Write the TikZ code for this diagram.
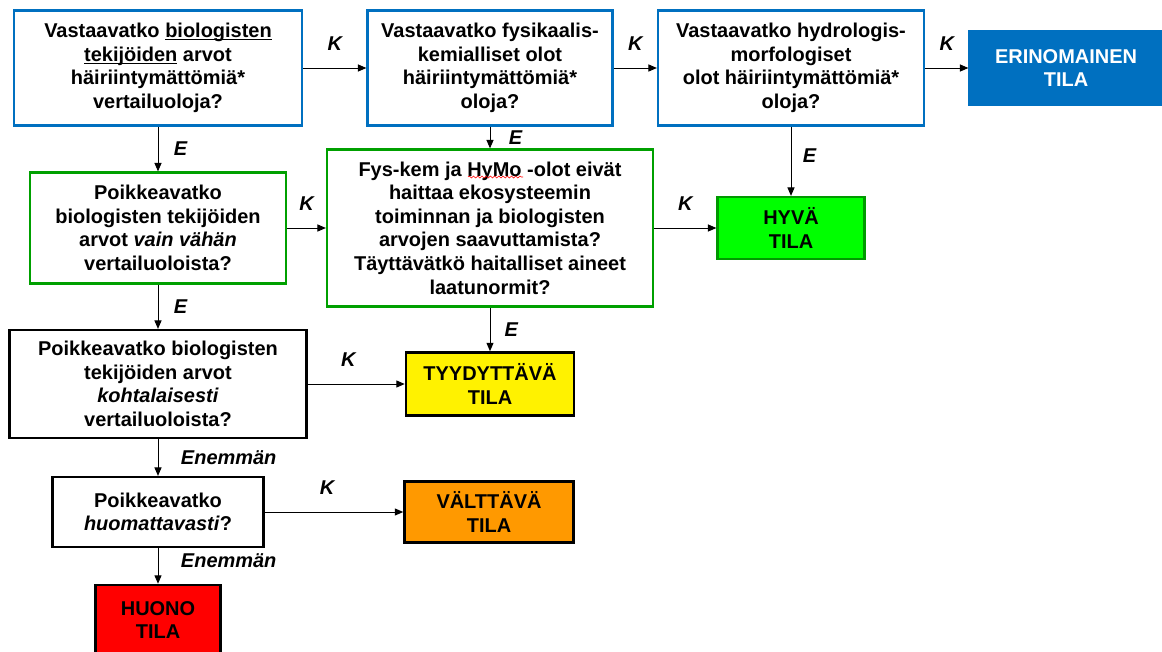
\documentclass[tikz,border=0pt]{standalone}
\usepackage{fontspec}
\setmainfont{Liberation Sans}
\usepackage{xcolor}
\usetikzlibrary{arrows.meta, decorations.pathmorphing}
\definecolor{lakeblue}{HTML}{0070C0}
\definecolor{boxgreen}{HTML}{00A000}
\definecolor{goodgreen}{HTML}{00FF00}
\definecolor{fairorange}{HTML}{FF9900}
\newcommand\lowline[1]{\setbox0\hbox{#1}\rlap{\rule[-1.8pt]{\wd0}{0.8pt}}\box0\relax}
\tikzset{qbox/.style={draw, line width=1.6pt, fill=white, align=center, inner sep=2pt, font={\fontsize{14.2}{16.8}\selectfont\bfseries}},
  boxsize/.style 2 args={minimum width=#1*0.025cm, minimum height=#2*0.025cm},
  bluebox/.style={qbox, draw=lakeblue}, greenbox/.style={qbox, draw=boxgreen}, blackbox/.style={qbox, draw=black},
  statebox/.style={qbox, draw=black, line width=1.8pt},
  arr/.style={-{Triangle[length=6pt,width=5pt]}, line width=0.7pt},
  lbl/.style={inner sep=0pt, font={\fontsize{14.2}{16.8}\selectfont\bfseries\itshape}}}

\begin{document}
\begin{tikzpicture}[x=0.025cm, y=-0.025cm]
    \useasboundingbox (0,0) rectangle (1162,651);
    % top row
    \node [bluebox, boxsize={288}{115}] (q1) at (158,68) {Vastaavatko \lowline{biologisten}\\\lowline{tekijöiden} arvot\\häiriintymättömiä*\\vertailuoloja?};
    \node [bluebox, boxsize={245}{115}] (q2) at (490,68) {Vastaavatko fysikaalis-\\kemialliset olot\\häiriintymättömiä*\\oloja?};
    \node [bluebox, boxsize={266}{115}] (q3) at (791,68) {Vastaavatko hydrologis-\\morfologiset\\olot häiriintymättömiä*\\oloja?};
    \node [qbox, draw=lakeblue, fill=lakeblue, text=white, boxsize={193}{74}] (eri) at (1066,68) {ERINOMAINEN\\TILA};
    % second row
    \node [greenbox, boxsize={256}{111}] (vain) at (158,228) {Poikkeavatko\\biologisten tekijöiden\\arvot \textit{vain vähän}\\vertailuoloista?};
    \node [greenbox, boxsize={326}{157}] (fyskem) at (490,228) {Fys-kem ja HyMo -olot eivät\\haittaa ekosysteemin\\toiminnan ja biologisten\\arvojen saavuttamista?\\Täyttävätkö haitalliset aineet\\laatunormit?};
    \node [qbox, draw=green!60!black, fill=goodgreen, boxsize={147}{62}] (hyva) at (791,228) {HYVÄ\\TILA};
    % lower rows
    \node [blackbox, boxsize={297}{108}] (kohtal) at (158,384) {Poikkeavatko biologisten\\tekijöiden arvot\\\textit{kohtalaisesti}\\vertailuoloista?};
    \node [statebox, fill=yellow, boxsize={168}{63}] (tyyd) at (490,384) {TYYDYTTÄVÄ\\TILA};
    \node [blackbox, boxsize={211}{70}] (huom) at (158,512) {Poikkeavatko\\\textit{huomattavasti}?};
    \node [statebox, fill=fairorange, boxsize={169}{61}] (valt) at (489,512) {VÄLTTÄVÄ\\TILA};
    \node [statebox, fill=red, boxsize={125}{70}] (huono) at (158,620) {HUONO\\TILA};
    % spell-check squiggle under HyMo
    \draw [red, line width=0.4pt, decorate, decoration={snake, amplitude=0.7pt, segment length=3pt}] (468,177) -- (523,177);
    % K = kyllä, E = ei
    \draw [arr] (q1) -- node [lbl, above=12pt] {K} (q2);
    \draw [arr] (q2) -- node [lbl, above=12pt] {K} (q3);
    \draw [arr] (q3) -- node [lbl, above=12pt] {K} (eri);
    \draw [arr] (q1) -- node [lbl, right=11pt] {E} (vain);
    \draw [arr] (q2) -- node [lbl, right=13pt] {E} (fyskem);
    \draw [arr] (q3) -- node [lbl, right=8pt, pos=0.42] {E} (hyva);
    \draw [arr] (vain) -- node [lbl, above=12pt] {K} (fyskem);
    \draw [arr] (fyskem) -- node [lbl, above=12pt] {K} (hyva);
    \draw [arr] (vain) -- node [lbl, right=11pt] {E} (kohtal);
    \draw [arr] (fyskem) -- node [lbl, right=10pt] {E} (tyyd);
    \draw [arr] (kohtal) -- node [lbl, above=12pt, pos=0.42] {K} (tyyd);
    \draw [arr] (kohtal) -- node [lbl, right=16pt] {Enemmän} (huom);
    \draw [arr] (huom) -- node [lbl, above=12pt, pos=0.45] {K} (valt);
    \draw [arr] (huom) -- node [lbl, right=16pt, pos=0.35] {Enemmän} (huono);
  \end{tikzpicture}
\end{document}
